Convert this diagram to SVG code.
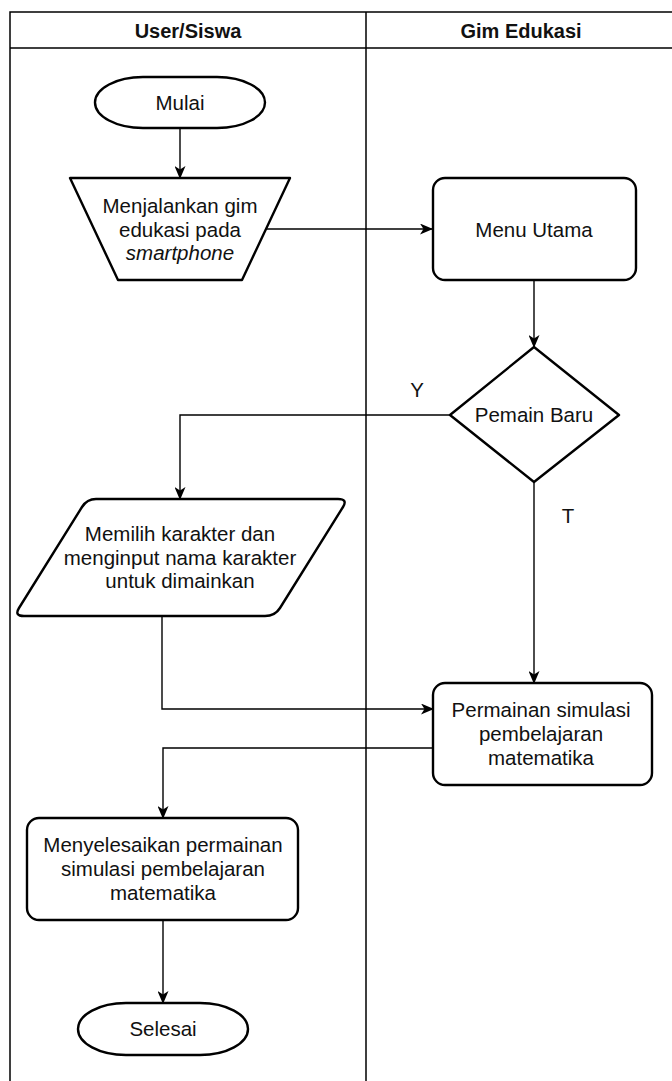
<svg xmlns="http://www.w3.org/2000/svg" width="672" height="1081" viewBox="0 0 672 1081">
  <defs>
    <marker id="arrow" viewBox="0 0 13 11" refX="12" refY="5.5" markerWidth="13" markerHeight="11" markerUnits="userSpaceOnUse" orient="auto">
      <path d="M0,0 L13,5.5 L0,11 L3.5,5.5 Z" fill="#000"/>
    </marker>
    <style>
      .lane { fill: none; stroke: #000; stroke-width: 1.5; }
      .shape { fill: #fff; stroke: #000; stroke-width: 2.4; stroke-linejoin: round; }
      .edge { fill: none; stroke: #000; stroke-width: 1.4; marker-end: url(#arrow); }
      text { font-family: "Liberation Sans", Arial, sans-serif; font-size: 20.5px; fill: #111; text-anchor: middle; }
      .head { font-weight: bold; font-size: 20px; }
      .it { font-style: italic; }
    </style>
  </defs>

  <!-- swimlane frame -->
  <g id="lanes">
    <path class="lane" d="M10,1081 V12 H672 M10,48 H672 M366,12 V1081"/>
    <text class="head" x="188" y="38">User/Siswa</text>
    <text class="head" x="521" y="38">Gim Edukasi</text>
  </g>

  <!-- connectors -->
  <g id="connectors">
    <path class="edge" d="M180,128 V178"/>
    <path class="edge" d="M266,229 H432"/>
    <path class="edge" d="M534,280 V347"/>
    <path class="edge" d="M450,415 H180 V499"/>
    <path class="edge" d="M534,482 V683"/>
    <path class="edge" d="M162,616 V709 H433"/>
    <path class="edge" d="M433,748 H163 V818"/>
    <path class="edge" d="M163,920 V1003"/>
    <text x="417" y="397">Y</text>
    <text x="568" y="523">T</text>
  </g>

  <g id="mulai">
    <rect class="shape" x="95" y="77" width="170" height="51" rx="48" ry="25.5"/>
    <text x="180" y="110">Mulai</text>
  </g>

  <g id="jalankan">
    <path class="shape" d="M70,178 H290 L242,280 H118 Z"/>
    <text x="180" y="213">Menjalankan gim</text>
    <text x="180" y="237">edukasi pada</text>
    <text class="it" x="180" y="260">smartphone</text>
  </g>

  <g id="menu">
    <rect class="shape" x="433" y="178" width="203" height="102" rx="12"/>
    <text x="534" y="237">Menu Utama</text>
  </g>

  <g id="pemain-baru">
    <path class="shape" d="M534,347 L619,415 L534,482 L450,415 Z"/>
    <text x="534" y="422">Pemain Baru</text>
  </g>

  <g id="pilih-karakter">
    <path class="shape" d="M96,499 H338 Q348,499 343,507 L280,608 Q275,616 265,616 H24 Q14,616 19,608 L82,507 Q87,499 96,499 Z"/>
    <text x="180" y="541">Memilih karakter dan</text>
    <text x="180" y="565">menginput nama karakter</text>
    <text x="180" y="588">untuk dimainkan</text>
  </g>

  <g id="simulasi">
    <rect class="shape" x="433" y="683" width="219" height="102" rx="12"/>
    <text x="541" y="717">Permainan simulasi</text>
    <text x="541" y="741">pembelajaran</text>
    <text x="541" y="765">matematika</text>
  </g>

  <g id="selesaikan">
    <rect class="shape" x="27" y="818" width="271" height="102" rx="12"/>
    <text x="163" y="852">Menyelesaikan permainan</text>
    <text x="163" y="876">simulasi pembelajaran</text>
    <text x="163" y="900">matematika</text>
  </g>

  <g id="selesai">
    <rect class="shape" x="78" y="1003" width="170" height="52" rx="48" ry="26"/>
    <text x="163" y="1036">Selesai</text>
  </g>
</svg>
